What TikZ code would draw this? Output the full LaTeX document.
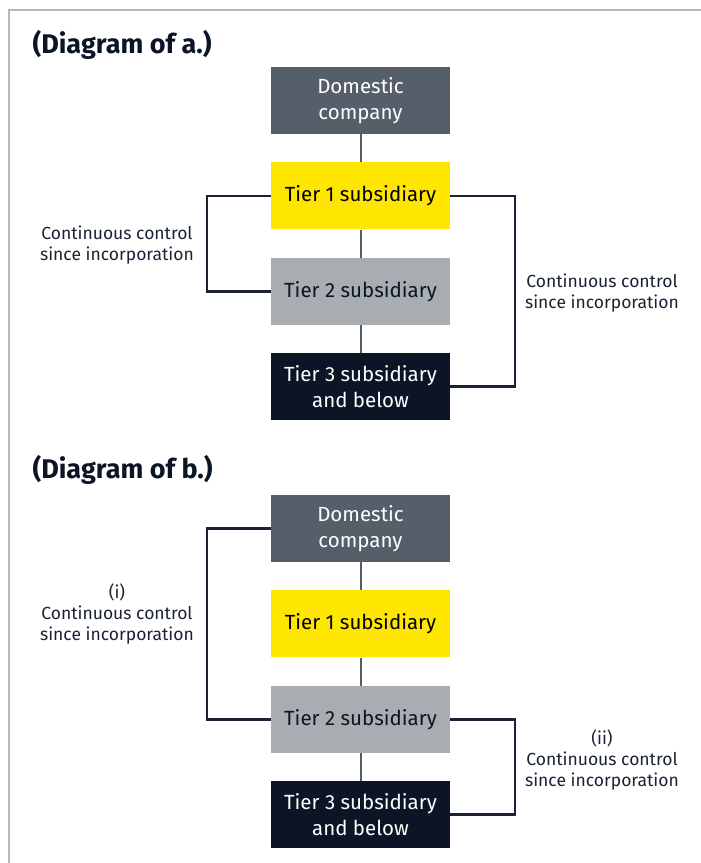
\documentclass[tikz,border=0pt]{standalone}
\usepackage{fontspec}
\setmainfont{Fira Sans}
\usepackage{tikz}
\usetikzlibrary{positioning}

\definecolor{domgray}{HTML}{555E69}
\definecolor{tieryellow}{HTML}{FFE600}
\definecolor{tiergray}{HTML}{A8ADB2}
\definecolor{tiernavy}{HTML}{0B1526}
\definecolor{linknavy}{HTML}{1A2233}
\definecolor{framegray}{HTML}{B5B9BE}

\begin{document}
\begin{tikzpicture}[
            x = 1pt, y = -1pt, % pixel coordinates
            node distance = 28pt, % gap between boxes
            font = \fontsize{20.5}{26}\selectfont
        ]

        \tikzstyle{box}=[
            minimum width = 179pt,
            minimum height = 67pt,
            inner sep = 0pt,
            align = center
        ]
        \tikzstyle{link}=[draw = domgray, line width = 2pt]
        \tikzstyle{bracket}=[draw = linknavy, line width = 2.5pt]
        \tikzstyle{note}=[align = center, text = linknavy,
            font = \fontsize{17.5}{21}\selectfont]
        \tikzstyle{title}=[anchor = west, text = tiernavy,
            font = \fontsize{27}{30}\selectfont\bfseries]

        \useasboundingbox (0,0) rectangle (701,863);
        \draw[framegray, line width = 2.5pt] (9,863) -- (9,10) -- (701,10);

        % diagram a
        \node[title] (ta) at (29,45) {(Diagram of a.)};
        \node[box, fill = domgray, text = white] (adom) at (360.5,100.5) {Domestic\\company};
        \node[box, fill = tieryellow, text = black] (aone) [below=of adom] {Tier 1 subsidiary};
        \node[box, fill = tiergray, text = tiernavy] (atwo) [below=of aone] {Tier 2 subsidiary};
        \node[box, fill = tiernavy, text = white] (athree) [below=of atwo] {Tier 3 subsidiary\\and below};

        \draw[link] (adom) -- (aone);
        \draw[link] (aone) -- (atwo);
        \draw[link] (atwo) -- (athree);

        \draw[bracket] (aone.west) -- ++(-64,0) |- (atwo.west);
        \draw[bracket] (aone.east) -- ++(65,0) |- (athree.east);

        \node[note] (anl) at (117,245) {Continuous control\\since incorporation};
        \node[note] (anr) at (602,293) {Continuous control\\since incorporation};

        % diagram b
        \node[title] (tb) at (29,470) {(Diagram of b.)};
        \node[box, fill = domgray, text = white] (bdom) at (360.5,528.5) {Domestic\\company};
        \node[box, fill = tieryellow, text = black] (bone) [below=of bdom] {Tier 1 subsidiary};
        \node[box, fill = tiergray, text = tiernavy] (btwo) [below=of bone] {Tier 2 subsidiary};
        \node[box, fill = tiernavy, text = white] (bthree) [below=of btwo] {Tier 3 subsidiary\\and below};

        \draw[link] (bdom) -- (bone);
        \draw[link] (bone) -- (btwo);
        \draw[link] (btwo) -- (bthree);

        \draw[bracket] (bdom.west) -- ++(-64,0) |- (btwo.west);
        \draw[bracket] (btwo.east) -- ++(65,0) |- (bthree.east);

        \node[note] (bnl) at (117,614) {(i)\\Continuous control\\since incorporation};
        \node[note] (bnr) at (602,760) {(ii)\\Continuous control\\since incorporation};
    \end{tikzpicture}
\end{document}
